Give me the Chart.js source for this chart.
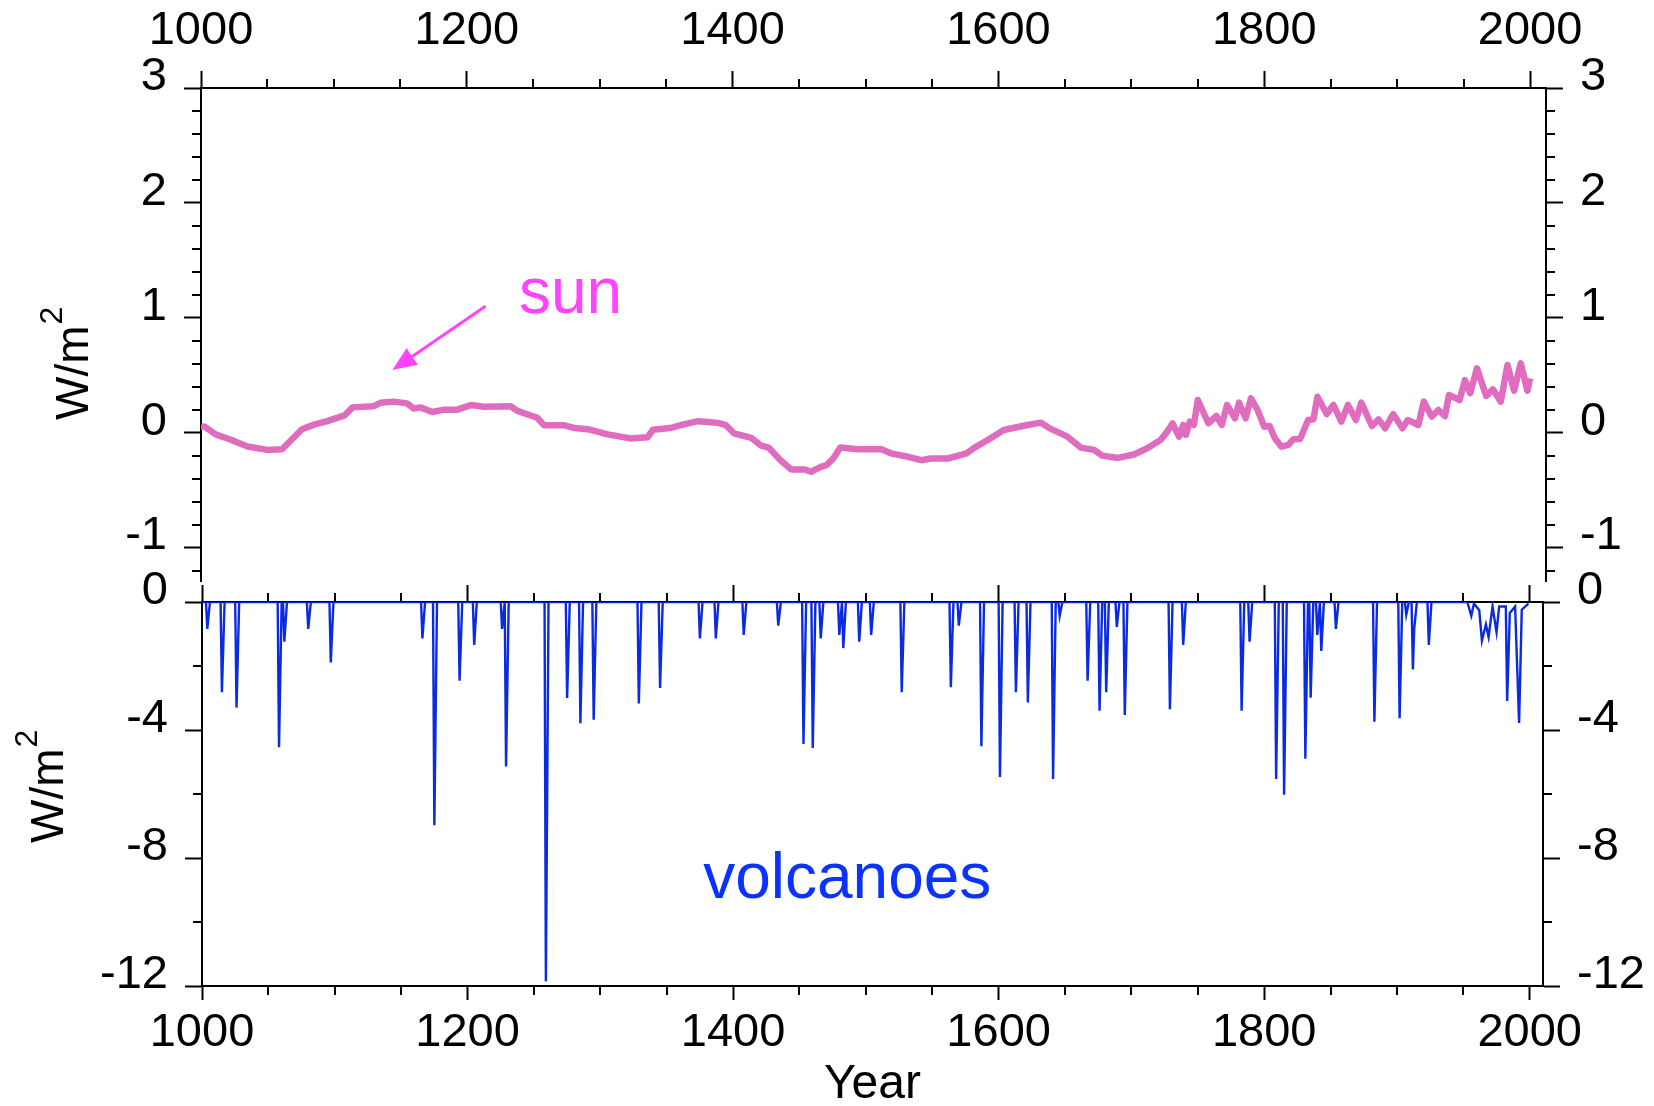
<!DOCTYPE html>
<html><head><meta charset="utf-8">
<script src="https://cdn.jsdelivr.net/npm/chart.js@4/dist/chart.umd.min.js"></script>
<style>
html,body{margin:0;padding:0;background:#fff;}
#wrap{position:relative;width:1654px;height:1106px;overflow:hidden;background:#fff;}
canvas{position:absolute;left:0;}
#c1{top:0;width:1654px;height:582px;}
#c2{top:540px;width:1654px;height:566px;}
</style></head><body>
<div id="wrap"><canvas id="c1" width="1654" height="582"></canvas><canvas id="c2" width="1654" height="566"></canvas></div>
<script>
// ---------------- data ----------------
const sunYears = [1000,1003,1011,1022,1035,1050,1061,1070,1076,1085,1095,1108,1114,1130,1135,1145,1155,1160,1165,1174,1183,1193,1203,1213,1233,1238,1253,1258,1273,1281,1291,1306,1323,1336,1340,1353,1361,1374,1389,1395,1401,1414,1421,1427,1436,1444,1454,1459,1466,1471,1476,1481,1494,1512,1519,1532,1542,1549,1562,1576,1582,1592,1604,1619,1632,1639,1652,1662,1672,1678,1690,1702,1712,1722,1727,1731,1736,1739,1741,1744,1747,1750,1758,1764,1768,1772,1778,1781,1786,1790,1795,1800,1804,1808,1813,1818,1822,1827,1833,1837,1840,1847,1852,1858,1863,1869,1873,1881,1886,1891,1897,1904,1908,1916,1920,1926,1931,1936,1939,1947,1951,1955,1960,1967,1972,1978,1983,1988,1993,1998,2000];
const sunForcing = [0.057,0.05,-0.015,-0.06,-0.12,-0.15,-0.145,-0.04,0.03,0.07,0.10,0.15,0.22,0.23,0.26,0.27,0.255,0.21,0.22,0.18,0.20,0.20,0.24,0.225,0.23,0.19,0.13,0.065,0.065,0.04,0.03,-0.015,-0.05,-0.04,0.025,0.04,0.065,0.10,0.085,0.065,-0.006,-0.045,-0.11,-0.13,-0.24,-0.32,-0.32,-0.34,-0.30,-0.28,-0.22,-0.13,-0.145,-0.145,-0.18,-0.21,-0.24,-0.225,-0.225,-0.18,-0.13,-0.064,0.023,0.06,0.087,0.035,-0.035,-0.13,-0.15,-0.20,-0.22,-0.19,-0.136,-0.064,0.009,0.08,-0.035,0.067,-0.02,0.096,0.067,0.284,0.082,0.145,0.067,0.241,0.125,0.261,0.125,0.299,0.197,0.052,0.058,-0.049,-0.122,-0.107,-0.058,-0.055,0.11,0.116,0.313,0.162,0.241,0.096,0.241,0.11,0.261,0.058,0.116,0.038,0.162,0.038,0.11,0.067,0.27,0.14,0.197,0.145,0.328,0.284,0.458,0.343,0.56,0.32,0.377,0.27,0.589,0.365,0.603,0.365,0.473];

const eruptionYears = [1004,1015,1026,1058,1062,1080,1097,1166,1175,1194,1205,1226,1229,1259,1275,1285,1295,1329,1345,1375,1387,1408,1434,1453,1460,1466,1480,1483,1495,1504,1527,1564,1570,1587,1601,1613,1622,1641,1646,1667,1676,1681,1689,1695,1729,1739,1783,1789,1809,1815,1831,1835,1840,1843,1854,1883,1902,1907,1912,1913,1924];
const eruptionForcing = [-0.84,-2.82,-3.30,-4.54,-1.24,-0.84,-1.89,-1.14,-6.98,-2.46,-1.34,-0.84,-5.14,-11.85,-3.00,-3.79,-3.68,-3.17,-2.69,-1.14,-1.14,-1.03,-0.74,-4.44,-4.56,-1.14,-1.03,-1.44,-1.24,-1.03,-2.82,-2.66,-0.74,-4.51,-5.47,-2.82,-3.14,-5.53,-0.43,-2.46,-3.40,-2.82,-0.78,-3.53,-3.35,-1.34,-3.40,-1.24,-5.53,-6.02,-4.90,-2.99,-1.03,-1.53,-0.84,-3.74,-3.63,-0.40,-2.11,-0.84,-1.34];
const recentYears = [1953,1956,1958,1962,1964,1967,1969,1972,1975,1977,1982,1983,1985,1989,1992,1994,1999];
const recentForcing = [0,-0.43,-0.05,-0.26,-1.21,-0.70,-1.09,-0.14,-0.94,-0.14,-0.14,-3.09,-0.34,-0.14,-3.78,-0.24,-0.05];

const yearMajorTicks = [1000,1200,1400,1600,1800,2000];
const yearMinorTicks = [1050,1100,1150,1250,1300,1350,1450,1500,1550,1650,1700,1750,1850,1900,1950];
const sunMajorTicks = [-1,0,1,2,3];
const sunMinorTicks = [-1.2,-0.8,-0.6,-0.4,-0.2,0.2,0.4,0.6,0.8,1.2,1.4,1.6,1.8,2.2,2.4,2.6,2.8];
const volcMajorTicks = [0,-4,-8,-12];
const volcMinorTicks = [-2,-6,-10];

// ---------------- styling ----------------
const FAMILY = '"Liberation Sans", Arial, Helvetica, sans-serif';
const TICK_FONT = {family: FAMILY, size: 47, lineHeight: 1.2};
const SUN_LINE = '#e06cbf';
const SUN_TEXT = '#ff44ff';
const VOLC_LINE = '#0a2be0';
const VOLC_TEXT = '#0a33ff';

// build the pulse line of the volcanic series (zero between eruptions)
function volcPoints() {
  const pts = [{x: 1000, y: 0}];
  eruptionYears.forEach((yr, i) => {
    const v = eruptionForcing[i];
    const next = i + 1 < eruptionYears.length ? eruptionYears[i + 1] : recentYears[0];
    if (yr - 1 > pts[pts.length - 1].x) pts.push({x: yr - 1, y: 0});
    pts.push({x: yr, y: v});
    if (yr + 2 < next) pts.push({x: yr + 2, y: 0});
  });
  recentYears.forEach((yr, i) => pts.push({x: yr, y: recentForcing[i]}));
  return pts;
}

const alignPx = (p, w) => Math.round(p - w / 2) + w / 2;

const decor = {
  id: 'decor',
  afterDraw(chart, args, o) {
    const ctx = chart.ctx;
    ctx.save();
    // minor ticks
    (o.minor || []).forEach(m => {
      const s = chart.scales[m.axis];
      ctx.strokeStyle = '#000';
      ctx.lineWidth = 2;
      ctx.lineCap = 'butt';
      m.values.forEach(v => {
        const p = alignPx(s.getPixelForValue(v), 2);
        ctx.beginPath();
        if (s.isHorizontal()) {
          const y0 = s.position === 'top' ? s.bottom : s.top;
          const dir = s.position === 'top' ? -1 : 1;
          ctx.moveTo(p, y0); ctx.lineTo(p, y0 + dir * m.len);
        } else {
          const x0 = s.position === 'left' ? s.right : s.left;
          const dir = s.position === 'left' ? -1 : 1;
          ctx.moveTo(x0, p); ctx.lineTo(x0 + dir * m.len, p);
        }
        ctx.stroke();
      });
    });
    // arrow (data anchored)
    if (o.arrow) {
      const a = o.arrow;
      const xs = chart.scales.x, ys = chart.scales.y;
      const x1 = xs.getPixelForValue(a.from[0]), y1 = ys.getPixelForValue(a.from[1]);
      const x2 = xs.getPixelForValue(a.to[0]), y2 = ys.getPixelForValue(a.to[1]);
      const ang = Math.atan2(y2 - y1, x2 - x1);
      const hx = x2 - a.head * Math.cos(ang), hy = y2 - a.head * Math.sin(ang);
      ctx.strokeStyle = a.color; ctx.fillStyle = a.color; ctx.lineWidth = a.width;
      ctx.beginPath(); ctx.moveTo(x1, y1); ctx.lineTo(hx, hy); ctx.stroke();
      ctx.beginPath();
      ctx.moveTo(x2, y2);
      ctx.lineTo(hx + a.half * Math.sin(ang), hy - a.half * Math.cos(ang));
      ctx.lineTo(hx - a.half * Math.sin(ang), hy + a.half * Math.cos(ang));
      ctx.closePath(); ctx.fill();
    }
    // data-anchored labels
    (o.labels || []).forEach(l => {
      const xs = chart.scales.x, ys = chart.scales.y;
      ctx.font = l.size + 'px ' + FAMILY;
      ctx.fillStyle = l.color;
      ctx.textAlign = 'center';
      ctx.textBaseline = 'alphabetic';
      ctx.fillText(l.text, xs.getPixelForValue(l.at[0]), ys.getPixelForValue(l.at[1]));
    });
    // rotated unit titles with superscript
    (o.unitTitles || []).forEach(t => {
      ctx.save();
      ctx.translate(t.x, t.y);
      ctx.rotate(-Math.PI / 2);
      ctx.fillStyle = '#000';
      ctx.textAlign = 'left';
      ctx.textBaseline = 'alphabetic';
      ctx.font = t.size + 'px ' + FAMILY;
      ctx.fillText(t.main, 0, 0);
      const w = ctx.measureText(t.main).width;
      ctx.font = t.supSize + 'px ' + FAMILY;
      ctx.fillText(t.sup, w + 1, -t.rise);
      ctx.restore();
    });
    // axis caption
    if (o.caption) {
      const c = o.caption;
      ctx.font = c.size + 'px ' + FAMILY;
      ctx.fillStyle = '#000';
      ctx.textAlign = 'center';
      ctx.textBaseline = 'alphabetic';
      ctx.fillText(c.text, (chart.chartArea.left + chart.chartArea.right) / 2, c.y);
    }
    ctx.restore();
  }
};

const setTicks = arr => s => { s.ticks = arr.map(v => ({value: v})); };
const fixW = w => s => { s.width = w; s.paddingTop = 0; s.paddingBottom = 0; };
const fixH = h => s => { s.height = h; s.paddingLeft = 0; s.paddingRight = 0; };

function axisY(pos, min, max, ticks, width) {
  return {
    type: 'linear', position: pos, min, max,
    afterBuildTicks: setTicks(ticks), afterFit: fixW(width),
    ticks: {font: TICK_FONT, color: '#000', padding: 17, labelOffset: -11, autoSkip: false, callback: v => String(v)},
    grid: {drawOnChartArea: false, drawTicks: true, tickLength: 17, tickWidth: 2, tickColor: '#000'},
    border: {display: true, width: 2, color: '#000'}
  };
}
function axisX(pos, min, max, height, showLabels, tickLen, pad, z) {
  return {
    type: 'linear', position: pos, min, max, z: z || 0,
    afterBuildTicks: setTicks(yearMajorTicks), afterFit: fixH(height),
    ticks: {display: showLabels, font: TICK_FONT, color: '#000', padding: pad, maxRotation: 0, autoSkip: false, callback: v => String(v)},
    grid: {drawOnChartArea: false, drawTicks: true, tickLength: tickLen, tickWidth: 2, tickColor: '#000'},
    border: {display: true, width: 2, color: '#000'}
  };
}

const common = {
  responsive: false, animation: false, events: [],
  layout: {padding: 0}
};

// ---------------- top panel: sun ----------------
new Chart(document.getElementById('c1'), {
  type: 'line',
  data: {datasets: [{
    data: sunYears.map((x, i) => ({x, y: sunForcing[i]})),
    borderColor: SUN_LINE, borderWidth: 6.5, pointRadius: 0, tension: 0, fill: false,
    borderJoinStyle: 'round', borderCapStyle: 'butt', xAxisID: 'x', yAxisID: 'y'
  }]},
  options: Object.assign({}, common, {
    plugins: {
      legend: {display: false}, tooltip: {enabled: false},
      decor: {
        minor: [
          {axis: 'x', values: yearMinorTicks, len: 9},
          {axis: 'y', values: sunMinorTicks, len: 9},
          {axis: 'y2', values: sunMinorTicks, len: 9}
        ],
        arrow: {from: [1214, 1.10], to: [1144, 0.545], color: SUN_TEXT, width: 3, head: 24, half: 10},
        labels: [{text: 'sun', at: [1278, 1.04], size: 64, color: SUN_TEXT}],
        unitTitles: [{x: 88, y: 420, main: 'W/m', sup: '2', size: 46, supSize: 32, rise: 26}]
      }
    },
    scales: {
      x: axisX('top', 1000, 2012, 88, true, 17, 12),
      y: axisY('left', -1.3, 3, sunMajorTicks, 201),
      y2: axisY('right', -1.3, 3, sunMajorTicks, 108)
    }
  }),
  plugins: [decor]
});

// ---------------- bottom panel: volcanoes ----------------
new Chart(document.getElementById('c2'), {
  type: 'line',
  data: {datasets: [{
    data: volcPoints(),
    borderColor: VOLC_LINE, borderWidth: 2.4, pointRadius: 0, tension: 0, fill: false,
    borderJoinStyle: 'miter', xAxisID: 'x', yAxisID: 'y'
  }]},
  options: Object.assign({}, common, {
    plugins: {
      legend: {display: false}, tooltip: {enabled: false},
      decor: {
        minor: [
          {axis: 'x', values: yearMinorTicks, len: 9},
          {axis: 'xTop', values: yearMinorTicks, len: 9},
          {axis: 'y', values: volcMinorTicks, len: 9},
          {axis: 'y2', values: volcMinorTicks, len: 9}
        ],
        labels: [{text: 'volcanoes', at: [1486, -9.24], size: 64, color: VOLC_TEXT}],
        unitTitles: [{x: 63, y: 303, main: 'W/m', sup: '2', size: 46, supSize: 32, rise: 26}],
        caption: {text: 'Year', size: 48, y: 558}
      }
    },
    scales: {
      x: axisX('bottom', 1000, 2010, 120, true, 14, 5),
      xTop: axisX('top', 1000, 2010, 62, false, 17, 0, 1),
      y: axisY('left', -12, 0, volcMajorTicks, 202),
      y2: axisY('right', -12, 0, volcMajorTicks, 111)
    }
  }),
  plugins: [decor]
});
</script>
</body></html>
